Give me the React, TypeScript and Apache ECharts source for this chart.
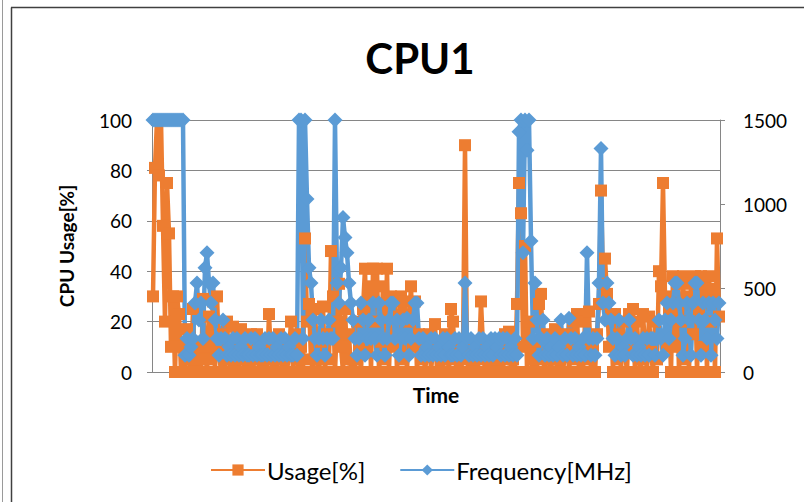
import React, { useEffect, useRef } from "react";
import * as echarts from "echarts";

// CPU usage in percent, one value per time step
const usage: number[] = [
  30, 81, 100, 78, 100, 58, 20, 75, 55, 10,
  30, 0, 30, 23, 0, 10, 0, 17, 5, 0,
  25, 0, 12, 5, 0, 29, 10, 0, 22, 5,
  28, 0, 30, 8, 0, 15, 0, 20, 5, 0,
  18, 0, 10, 0, 17, 5, 0, 12, 0, 15,
  0, 8, 15, 0, 5, 0, 12, 0, 23, 5,
  0, 10, 0, 15, 5, 0, 12, 0, 8, 20,
  0, 15, 5, 0, 10, 0, 53, 20, 27, 5,
  0, 25, 5, 0, 12, 26, 0, 15, 5, 48,
  30, 0, 20, 35, 10, 0, 25, 5, 15, 0,
  5, 0, 20, 10, 0, 25, 41, 8, 34, 0,
  41, 20, 41, 0, 12, 34, 5, 41, 0, 30,
  10, 28, 0, 22, 30, 5, 28, 0, 20, 34,
  10, 28, 0, 15, 5, 12, 0, 8, 15, 0,
  10, 19, 0, 12, 5, 0, 15, 8, 0, 25,
  20, 5, 0, 10, 0, 8, 90, 5, 0, 12,
  0, 10, 0, 5, 28, 10, 0, 12, 0, 8,
  0, 12, 5, 0, 10, 0, 15, 5, 16, 0,
  5, 0, 27, 75, 63, 10, 50, 0, 20, 5,
  0, 12, 0, 27, 31, 5, 0, 15, 5, 0,
  10, 17, 0, 5, 12, 0, 8, 15, 0, 10,
  20, 5, 23, 0, 10, 0, 20, 5, 24, 0,
  10, 0, 15, 27, 72, 35, 45, 31, 10, 23,
  0, 23, 5, 15, 0, 20, 8, 0, 23, 10,
  25, 0, 20, 5, 0, 23, 10, 0, 22, 8,
  0, 20, 5, 40, 34, 75, 30, 10, 25, 0,
  38, 10, 35, 0, 20, 38, 5, 30, 0, 35,
  15, 38, 0, 25, 38, 10, 35, 0, 38, 20,
  33, 0, 53, 22,
];

// CPU frequency in MHz, one value per time step
const frequency: number[] = [
  1500, 1500, 1500, 1500, 1500, 1500, 1500, 1500, 1500, 1500,
  1500, 1500, 1500, 1500, 1500, 1500, 100, 200, 100, 150,
  200, 410, 530, 310, 410, 200, 620, 710, 530, 410,
  530, 310, 200, 100, 200, 310, 200, 100, 150, 100,
  200, 100, 200, 100, 150, 100, 200, 100, 100, 200,
  100, 200, 100, 150, 100, 100, 200, 100, 200, 100,
  200, 100, 150, 100, 200, 100, 200, 100, 150, 100,
  100, 200, 100, 1500, 1500, 200, 1500, 1030, 620, 530,
  310, 200, 100, 200, 310, 200, 100, 200, 310, 200,
  200, 1500, 530, 410, 620, 920, 800, 710, 530, 410,
  310, 200, 100, 200, 410, 310, 100, 200, 310, 200,
  410, 200, 100, 410, 310, 200, 100, 200, 310, 410,
  410, 200, 310, 100, 200, 310, 200, 320, 100, 200,
  310, 410, 410, 200, 100, 200, 100, 150, 100, 200,
  100, 200, 100, 150, 100, 200, 100, 200, 150, 100,
  100, 200, 100, 200, 100, 150, 530, 200, 100, 200,
  100, 150, 100, 200, 100, 200, 100, 150, 100, 200,
  100, 200, 150, 200, 100, 200, 100, 200, 100, 150,
  100, 200, 100, 1430, 1500, 710, 1500, 1320, 1500, 780,
  200, 530, 310, 100, 200, 310, 100, 200, 100, 150,
  100, 200, 100, 150, 310, 100, 200, 100, 320, 200,
  100, 200, 100, 150, 100, 200, 100, 710, 200, 100,
  200, 100, 200, 530, 1330, 410, 310, 530, 410, 310,
  200, 100, 200, 310, 100, 150, 100, 200, 310, 200,
  100, 200, 100, 150, 100, 200, 100, 200, 100, 200,
  200, 100, 200, 310, 200, 100, 310, 410, 200, 310,
  410, 530, 530, 410, 310, 100, 200, 410, 310, 100,
  410, 530, 530, 310, 100, 410, 310, 200, 410, 100,
  410, 310, 200, 410,
];

const timeSteps: string[] = usage.map((_, i) => String(i + 1));

const leftTicks = { min: 0, max: 100, interval: 20 };
const rightTicks = { min: 0, max: 1500, interval: 500 };

const FONT = "Lato, 'Noto Sans', sans-serif";

export default function App() {
  const ref = useRef<HTMLDivElement>(null);

  useEffect(() => {
    if (!ref.current) return;
    const chart = echarts.init(ref.current, undefined, { renderer: "svg" });
    const axisGrey = "#868686";
    chart.setOption({
      animation: false,
      backgroundColor: "#ffffff",
      textStyle: { fontFamily: FONT },
      title: {
        text: "CPU1",
        left: 415,
        top: 32,
        textAlign: "center",
        textStyle: { fontFamily: FONT, fontWeight: "bold", fontSize: 42, color: "#000" },
      },
      graphic: [
        { type: "line", shape: { x1: 2.5, y1: 0, x2: 2.5, y2: 502 }, style: { stroke: "#9a9a9a", lineWidth: 1 } },
        { type: "line", shape: { x1: 11.5, y1: 7.5, x2: 11.5, y2: 502 }, style: { stroke: "#404040", lineWidth: 1.5 } },
        { type: "line", shape: { x1: 11, y1: 7.5, x2: 804, y2: 7.5 }, style: { stroke: "#404040", lineWidth: 1.5 } },
      ],
      legend: {
        left: 205,
        top: 453,
        itemWidth: 54,
        itemHeight: 14,
        itemGap: 34,
        textStyle: { fontFamily: FONT, fontSize: 24, color: "#000", padding: [0, 0, 0, -3] },
        data: ["Usage[%]", "Frequency[MHz]"],
      },
      grid: { left: 152, right: 84, top: 120, bottom: 130 },
      xAxis: {
        type: "category",
        data: timeSteps,
        boundaryGap: true,
        axisLine: { show: true, lineStyle: { color: axisGrey, width: 1 } },
        axisTick: { show: false },
        axisLabel: { show: false },
        splitLine: { show: false },
        name: "Time",
        nameLocation: "middle",
        nameGap: 12,
        nameTextStyle: { fontFamily: FONT, fontWeight: "bold", fontSize: 21, color: "#000", verticalAlign: "top" },
      },
      yAxis: [
        {
          type: "value",
          ...leftTicks,
          position: "left",
          axisLine: { show: true, lineStyle: { color: axisGrey, width: 1 } },
          axisTick: { show: true, length: 5, lineStyle: { color: axisGrey } },
          axisLabel: { fontFamily: FONT, fontSize: 19, color: "#000", margin: 20 },
          splitLine: { show: true, lineStyle: { color: axisGrey, width: 1 } },
          name: "CPU Usage[%]",
          nameLocation: "middle",
          nameGap: 76,
          nameRotate: 90,
          nameTextStyle: { fontFamily: FONT, fontWeight: "bold", fontSize: 19, color: "#000" },
        },
        {
          type: "value",
          ...rightTicks,
          position: "right",
          axisLine: { show: true, lineStyle: { color: axisGrey, width: 1 } },
          axisTick: { show: true, length: 5, lineStyle: { color: axisGrey } },
          axisLabel: { fontFamily: FONT, fontSize: 19, color: "#000", margin: 23, formatter: (v: number) => String(v) },
          splitLine: { show: false },
        },
      ],
      series: [
        {
          name: "Usage[%]",
          type: "line",
          yAxisIndex: 0,
          data: usage,
          color: "#ED7D31",
          symbol: "rect",
          symbolSize: 12,
          showAllSymbol: true,
          lineStyle: { width: 4.5, color: "#ED7D31" },
          itemStyle: { color: "#ED7D31" },
        },
        {
          name: "Frequency[MHz]",
          type: "line",
          yAxisIndex: 1,
          data: frequency,
          color: "#5B9BD5",
          symbol: "diamond",
          symbolSize: 15,
          showAllSymbol: true,
          lineStyle: { width: 4.5, color: "#5B9BD5" },
          itemStyle: { color: "#5B9BD5" },
        },
      ],
    });
    return () => chart.dispose();
  }, []);

  return (
    <div
      ref={ref}
      style={{ position: "absolute", left: 0, top: 0, width: 804, height: 502 }}
    />
  );
}
